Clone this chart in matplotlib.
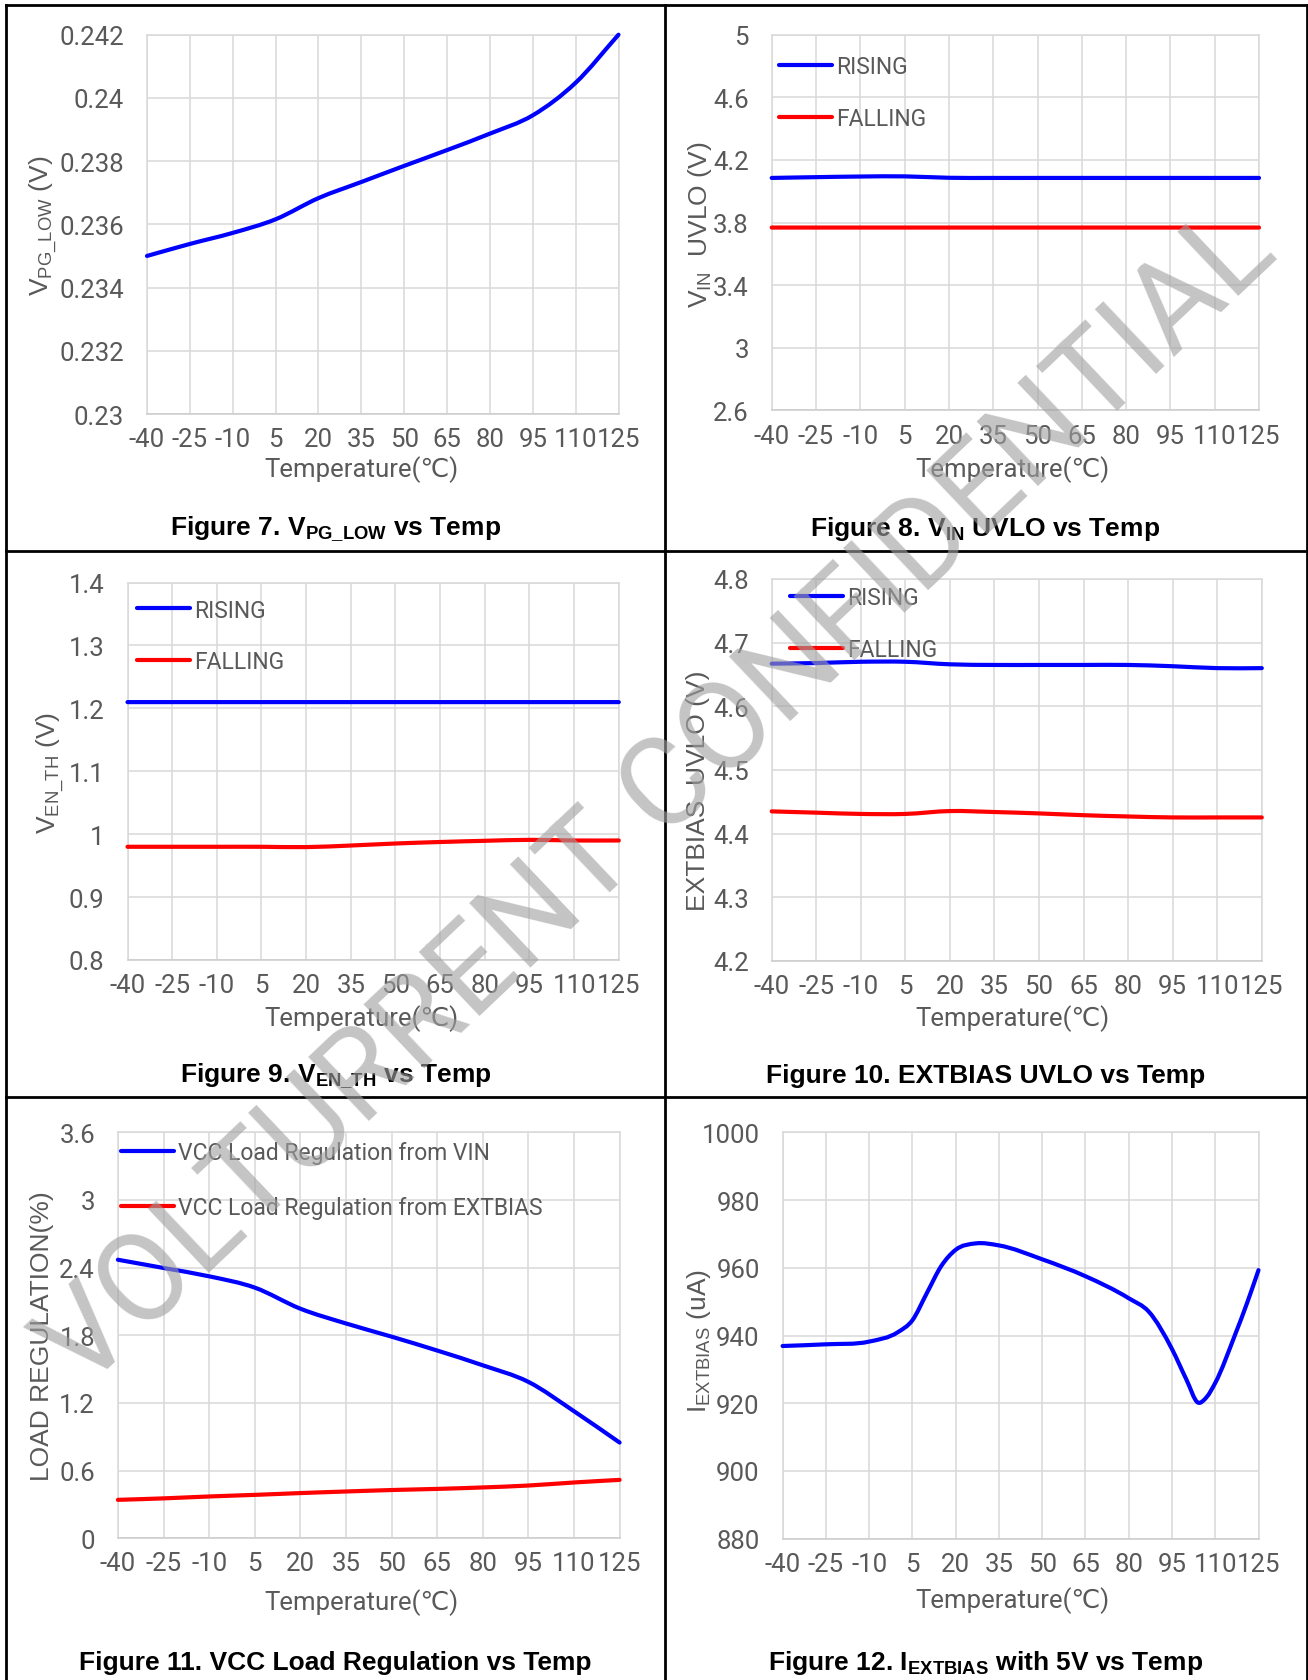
import numpy as np
import matplotlib
matplotlib.use('Agg')
import matplotlib.pyplot as plt
from matplotlib.path import Path
from matplotlib.patches import PathPatch
from matplotlib.lines import Line2D

W, H = 1308, 1681

plt.rcParams['mathtext.fontset'] = 'custom'
plt.rcParams['mathtext.rm'] = 'Liberation Sans'
plt.rcParams['mathtext.bf'] = 'Liberation Sans:bold'

GRAY = '#595959'
GRID = '#d9d9d9'
BLUE = '#0000ff'
RED = '#ff0000'
NUM_FONT = ['Roboto', 'DejaVu Sans']
LBL_FONT = ['Liberation Sans', 'DejaVu Sans']

# temperature axis shared by all charts
temps = [-40, -25, -10, 5, 20, 35, 50, 65, 80, 95, 110, 125]
temp_labels = ['-40', '-25', '-10', '5', '20', '35', '50', '65', '80', '95', '110', '125']

# Figure 7 : VPG_LOW
vpg_low = [0.23500, 0.23538, 0.23573, 0.23616, 0.23683, 0.23734,
           0.23785, 0.23835, 0.23887, 0.23945, 0.24048, 0.24200]
vpg_ticks = [0.23, 0.232, 0.234, 0.236, 0.238, 0.24, 0.242]

# Figure 8 : VIN UVLO
vin_rising = [4.085, 4.090, 4.094, 4.095, 4.086, 4.085,
              4.085, 4.085, 4.085, 4.085, 4.085, 4.085]
vin_falling = [3.768, 3.768, 3.768, 3.768, 3.768, 3.768,
               3.768, 3.768, 3.768, 3.768, 3.768, 3.768]
vin_ticks = [2.6, 3, 3.4, 3.8, 4.2, 4.6, 5]

# Figure 9 : VEN_TH
en_rising = [1.21, 1.21, 1.21, 1.21, 1.21, 1.21,
             1.21, 1.21, 1.21, 1.21, 1.21, 1.21]
en_falling = [0.980, 0.980, 0.980, 0.980, 0.9795, 0.982,
              0.9852, 0.9876, 0.9895, 0.991, 0.990, 0.990]
en_ticks = [0.8, 0.9, 1, 1.1, 1.2, 1.3, 1.4]

# Figure 10 : EXTBIAS UVLO
ext_rising = [4.667, 4.668, 4.670, 4.670, 4.666, 4.665,
              4.665, 4.665, 4.665, 4.663, 4.660, 4.660]
ext_falling = [4.435, 4.433, 4.431, 4.431, 4.4355, 4.434,
               4.4318, 4.429, 4.427, 4.4255, 4.4255, 4.4255]
ext_ticks = [4.2, 4.3, 4.4, 4.5, 4.6, 4.7, 4.8]

# Figure 11 : VCC load regulation
reg_vin = [2.470, 2.397, 2.323, 2.223, 2.036, 1.905,
           1.788, 1.665, 1.534, 1.387, 1.127, 0.849]
reg_ext = [0.341, 0.354, 0.371, 0.385, 0.401, 0.415,
           0.428, 0.438, 0.451, 0.468, 0.495, 0.518]
reg_ticks = [0, 0.6, 1.2, 1.8, 2.4, 3, 3.6]

# Figure 12 : IEXTBIAS with 5V (measured at finer temperature steps)
iext_temps = [-40, -25, -10, 0, 5, 10, 15, 20, 27, 35, 50, 65,
              80, 87, 95, 100, 104, 107, 110, 117, 121, 125]
iext = [936.9, 937.4, 938.2, 941.0, 944.5, 952.5, 960.5, 965.3, 967.2, 966.6,
        962.5, 957.5, 951.0, 947.0, 936.0, 927.0, 920.2, 921.8, 926.0, 940.5,
        949.5, 959.3]
iext_ticks = [880, 900, 920, 940, 960, 980, 1000]


def smooth_path(x, y):
    # cubic Hermite segments written as Bezier curves (smoothed line look)
    x = np.asarray(x, float)
    y = np.asarray(y, float)
    m = np.gradient(y, x)
    verts = [(x[0], y[0])]
    codes = [Path.MOVETO]
    for i in range(len(x) - 1):
        d = (x[i + 1] - x[i]) / 3.0
        verts += [(x[i] + d, y[i] + m[i] * d),
                  (x[i + 1] - d, y[i + 1] - m[i + 1] * d),
                  (x[i + 1], y[i + 1])]
        codes += [Path.CURVE4] * 3
    return Path(verts, codes)


def px_axes(fig, l, t, r, b):
    return fig.add_axes([l / W, 1 - b / H, (r - l) / W, (b - t) / H])


def draw_panel(fig, rect, series, yticks, ylabel, ylab_xy, xlab_xy, legend=None):
    ax = px_axes(fig, *rect)
    for xs, ys, col in series:
        ax.add_patch(PathPatch(smooth_path(xs, ys), fill=False, edgecolor=col,
                               lw=3.0, capstyle='round', joinstyle='round',
                               clip_on=False, zorder=3))
    ax.set_xlim(temps[0], temps[-1])
    ax.set_ylim(yticks[0], yticks[-1])
    ax.set_xticks(temps)
    ax.set_xticklabels(temp_labels)
    ax.set_yticks(yticks)
    ax.set_yticklabels(['{:g}'.format(v) for v in yticks])
    ax.tick_params(length=0, labelsize=18.5, labelcolor=GRAY)
    ax.tick_params(axis='x', pad=9.5)
    ax.tick_params(axis='y', pad=16.5)
    for lab in ax.get_xticklabels() + ax.get_yticklabels():
        lab.set_family(NUM_FONT)
    ax.grid(True, color=GRID, lw=1.1)
    ax.set_axisbelow(True)
    for side, sp in ax.spines.items():
        sp.set_color('#cccccc' if side == 'bottom' else GRID)
        sp.set_linewidth(1.1)

    ax.set_xlabel('Temperature(℃)', fontsize=18.5, color=GRAY,
                  family=NUM_FONT, va='center')
    ax.xaxis.set_label_coords(xlab_xy[0] / W, 1 - xlab_xy[1] / H,
                              transform=fig.transFigure)
    ax.set_ylabel(ylabel, fontsize=19, color=GRAY, family=LBL_FONT,
                  va='center', ha='center')
    ax.yaxis.set_label_coords(ylab_xy[0] / W, 1 - ylab_xy[1] / H,
                              transform=fig.transFigure)

    if legend is not None:
        labels, colors, anchor, spacing = legend
        handles = [Line2D([], [], color=c, lw=3.0, solid_capstyle='round') for c in colors]
        ax.legend(handles, labels, loc='upper left',
                  bbox_to_anchor=(anchor[0] / W, 1 - anchor[1] / H),
                  bbox_transform=fig.transFigure, frameon=False,
                  borderpad=0, borderaxespad=0, handlelength=2.3,
                  handletextpad=0.2, labelspacing=spacing,
                  prop={'family': NUM_FONT, 'size': 16.5}, labelcolor=GRAY)
    return ax


fig = plt.figure(figsize=(W / 100, H / 100), dpi=100)
fig.patch.set_facecolor('white')

draw_panel(fig, (147, 35.7, 618.5, 415),
           [(temps, vpg_low, BLUE)], vpg_ticks,
           r'$\mathregular{V_{PG\_LOW}}$ (V)', (44, 226), (361, 470))

draw_panel(fig, (771.7, 35.7, 1259, 411.4),
           [(temps, vin_rising, BLUE), (temps, vin_falling, RED)], vin_ticks,
           r'$\mathregular{V_{IN}}$  UVLO (V)', (700, 225), (1012, 470),
           legend=(['RISING', 'FALLING'], [BLUE, RED], (779, 56), 1.25))

draw_panel(fig, (127.5, 583.6, 618.8, 961),
           [(temps, en_rising, BLUE), (temps, en_falling, RED)], en_ticks,
           r'$\mathregular{V_{EN\_TH}}$ (V)', (50.5, 773), (361, 1018.6),
           legend=(['RISING', 'FALLING'], [BLUE, RED], (137, 599.5), 1.25))

draw_panel(fig, (771.7, 580, 1261.8, 962),
           [(temps, ext_rising, BLUE), (temps, ext_falling, RED)], ext_ticks,
           'EXTBIAS  UVLO (V)', (698, 791), (1012, 1018.6),
           legend=(['RISING', 'FALLING'], [BLUE, RED], (790, 587), 1.25))

draw_panel(fig, (117.9, 1133.3, 619.6, 1539.3),
           [(temps, reg_vin, BLUE), (temps, reg_ext, RED)], reg_ticks,
           'LOAD REGULATION(%)', (42, 1336), (361, 1602.6),
           legend=(['VCC Load Regulation from VIN', 'VCC Load Regulation from EXTBIAS'],
                   [BLUE, RED], (121, 1142), 1.4))

draw_panel(fig, (782.6, 1133.3, 1258.5, 1539.7),
           [(iext_temps, iext, BLUE)], iext_ticks,
           r'$\mathregular{I_{EXTBIAS}}$ (uA)', (699.5, 1341.5), (1012, 1600.7))

# captions
captions = [
    (335.5, 528.6, r'Figure 7. $\mathregular{V_{PG\_LOW}}$ vs Temp'),
    (985.5, 528.6, r'Figure 8. $\mathregular{V_{IN}}$ UVLO vs Temp'),
    (335.5, 1075.7, r'Figure 9. $\mathregular{V_{EN\_TH}}$ vs Temp'),
    (985.5, 1075.7, 'Figure 10. EXTBIAS UVLO vs Temp'),
    (335.5, 1663, 'Figure 11. VCC Load Regulation vs Temp'),
    (985.5, 1663, r'Figure 12. $\mathregular{I_{EXTBIAS}}$ with 5V vs Temp'),
]
for cx, cy, txt in captions:
    fig.text(cx / W, 1 - cy / H, txt, ha='center', va='center', fontsize=19,
             fontweight='bold', family=LBL_FONT, color='black')

# table borders
border = dict(color='black', lw=2.0, transform=fig.transFigure, solid_capstyle='projecting')
fig.add_artist(Line2D([6 / W, 6 / W], [1 - 6 / H, 0], **border))
fig.add_artist(Line2D([1306.5 / W, 1306.5 / W], [1 - 6 / H, 0], **border))
fig.add_artist(Line2D([665 / W, 665 / W], [1 - 6 / H, 0], **border))
for yy in (6, 552, 1098):
    fig.add_artist(Line2D([6 / W, 1306.5 / W], [1 - yy / H, 1 - yy / H], **border))

# watermark
fig.text(658 / W, 1 - 800 / H, 'VOLTURRENT CONFIDENTIAL', rotation=43.5,
         rotation_mode='anchor', ha='center', va='center', fontsize=89,
         fontweight='normal', family=NUM_FONT, color='#a0a0a0', alpha=0.62,
         zorder=10)

fig.savefig('out.png', dpi=100, facecolor='white')
